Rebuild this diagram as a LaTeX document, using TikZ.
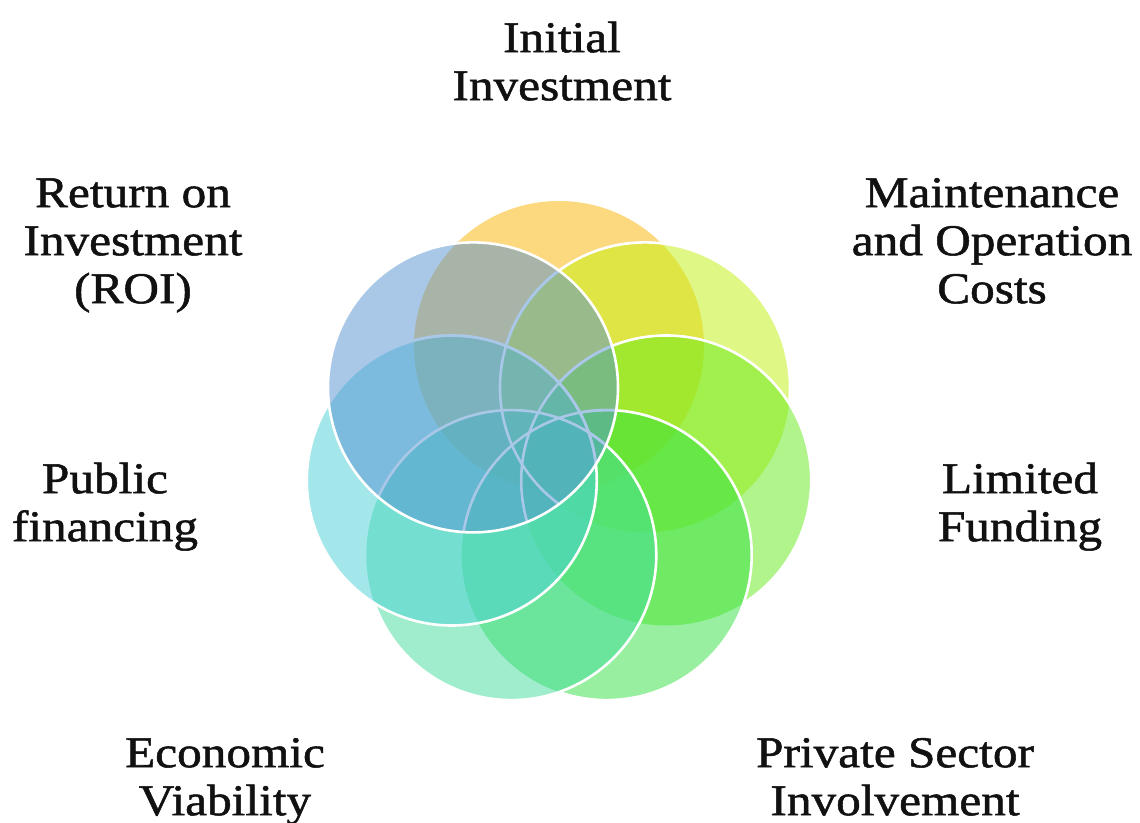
\documentclass[tikz,border=0pt]{standalone}
\usepackage{fontspec}
\setmainfont{Liberation Serif}[FakeStretch=1.12, FakeBold=1.2]
\definecolor{cA}{RGB}{251,181,1}
\definecolor{cB}{RGB}{193,241,13}
\definecolor{cC}{RGB}{101,235,25}
\definecolor{cD}{RGB}{49,225,65}
\definecolor{cE}{RGB}{65,221,155}
\definecolor{cF}{RGB}{75,209,215}
\definecolor{cG}{RGB}{85,145,209}
\definecolor{ink}{RGB}{17,17,17}
\tikzset{
  disc/.style={fill opacity=0.5},
  rim/.style={draw=white, line width=2.6pt},
  lab/.style={font=\fontsize{44}{48}\selectfont, align=center, anchor=north,
              inner sep=0pt, text=ink}
}
\newcommand{\Rad}{145pt}
\newcommand{\Strut}{\rule{0pt}{32pt}}
\begin{document}
\begin{tikzpicture}[x=1pt,y=1pt]
\fill[white] (0,0) rectangle (1140,822);
\useasboundingbox (0,0) rectangle (1140,822);

\coordinate (c1) at (559.0,476.0);
\coordinate (c2) at (645.0,434.6);
\coordinate (c3) at (666.2,341.5);
\coordinate (c4) at (606.7,266.9);
\coordinate (c5) at (511.3,266.9);
\coordinate (c6) at (451.8,341.5);
\coordinate (c7) at (473.0,434.6);

% circle 1
\fill[cA, disc] (c1) circle[radius=\Rad];
% circle 2
\fill[cB, disc] (c2) circle[radius=\Rad];
\begin{scope}[even odd rule]
  \clip (0,0) rectangle (1140,822) (c3) circle[radius=\Rad];
  \clip (0,0) rectangle (1140,822) (c4) circle[radius=\Rad];
  \clip (0,0) rectangle (1140,822) (c5) circle[radius=\Rad];
  \clip (0,0) rectangle (1140,822) (c6) circle[radius=\Rad];
  \draw[rim] (c2) circle[radius=\Rad];
\end{scope}
% circle 3
\fill[cC, disc] (c3) circle[radius=\Rad];
\begin{scope}[even odd rule]
  \clip (0,0) rectangle (1140,822) (c4) circle[radius=\Rad];
  \clip (0,0) rectangle (1140,822) (c5) circle[radius=\Rad];
  \clip (0,0) rectangle (1140,822) (c6) circle[radius=\Rad];
  \draw[rim] (c3) circle[radius=\Rad];
\end{scope}
% circle 4
\fill[cD, disc] (c4) circle[radius=\Rad];
\begin{scope}[even odd rule]
  \clip (0,0) rectangle (1140,822) (c5) circle[radius=\Rad];
  \clip (0,0) rectangle (1140,822) (c6) circle[radius=\Rad];
  \draw[rim] (c4) circle[radius=\Rad];
\end{scope}
% circle 5
\fill[cE, disc] (c5) circle[radius=\Rad];
\begin{scope}[even odd rule]
  \clip (0,0) rectangle (1140,822) (c6) circle[radius=\Rad];
  \draw[rim] (c5) circle[radius=\Rad];
\end{scope}
% circle 6
\fill[cF, disc] (c6) circle[radius=\Rad];
\draw[rim] (c6) circle[radius=\Rad];
% outlines seen through circle 7
\begin{scope}
  \clip (c7) circle[radius=\Rad];
  \foreach \c in {c2,c3,c4,c5,c6} \draw[rim] (\c) circle[radius=\Rad];
\end{scope}
% circle 7
\fill[cG, disc] (c7) circle[radius=\Rad];
\draw[rim] (c7) circle[radius=\Rad];

% labels
\node[lab] (initial) at (562,802) {\Strut Initial\\Investment};
\node[lab] (maint) at (992,647) {\Strut Maintenance\\and Operation\\Costs};
\node[lab] (roi) at (133,647) {\Strut Return on\\Investment\\(ROI)};
\node[lab] (public) at (105,361) {\Strut Public\\financing};
\node[lab] (limited) at (1020,361) {\Strut Limited\\Funding};
\node[lab] (econ) at (225,87) {\Strut Economic\\Viability};
\node[lab] (private) at (895,87) {\Strut Private Sector\\Involvement};
\end{tikzpicture}
\end{document}
